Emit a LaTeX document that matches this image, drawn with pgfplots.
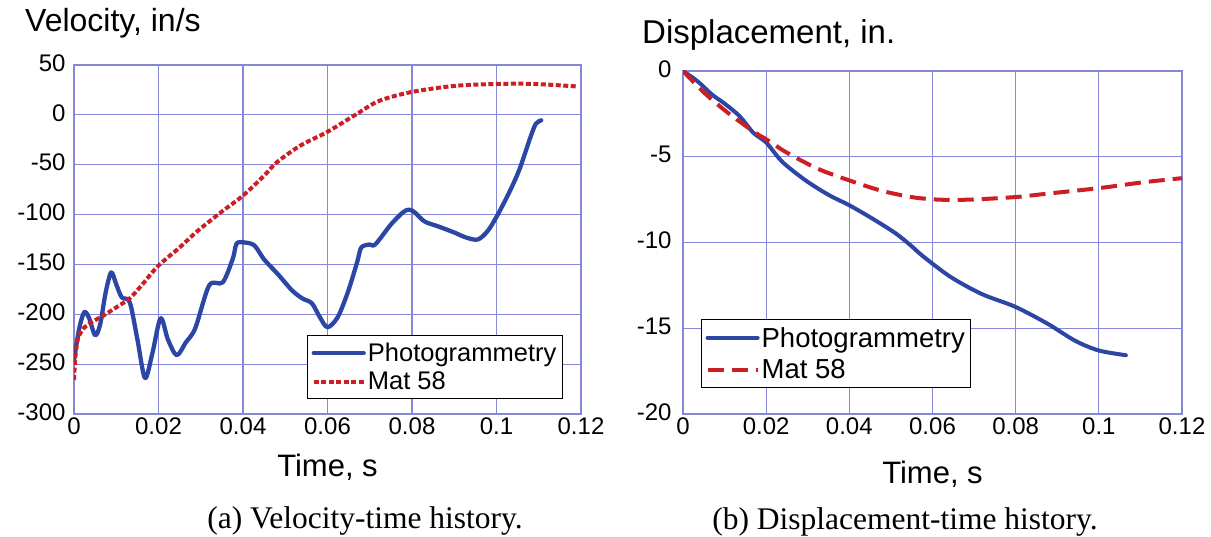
\documentclass[border=0pt]{standalone}
\usepackage{fontspec}
\setmainfont{Liberation Sans}
\newfontfamily\capfont{Liberation Serif}
\usepackage{pgfplots}
\pgfplotsset{compat=1.18}
\definecolor{gridc}{RGB}{135,135,215}
\definecolor{bl}{RGB}{44,70,165}
\definecolor{rd}{RGB}{205,30,35}
\pgfplotsset{
  common/.style={
    scale only axis,
    xmin=0, xmax=0.12,
    xtick={0,0.02,0.04,0.06,0.08,0.1,0.12},
    xticklabels={0,0.02,0.04,0.06,0.08,0.1,0.12},
    grid=major,
    major grid style={draw=gridc, line width=1.1pt},
    axis line style={draw=gridc, line width=1.4pt},
    major tick length=0pt,
    /pgf/number format/assume math mode=true,
    tick label style={font=\fontsize{24}{24}\selectfont},
    legend cell align=left,
    legend image code/.code={\draw[#1] plot coordinates {(0pt,0pt) (25pt,0pt) (50pt,0pt)};},
  },
  blueline/.style={color=bl, line width=4.3pt, smooth, tension=0.5, line cap=round, line join=round},
}
\begin{document}
\begin{tikzpicture}[x=1pt,y=1pt]
\useasboundingbox (0,0) rectangle (1211,537);
% ---------------- (a) velocity ----------------
\begin{axis}[common,
  at={(74pt,123pt)}, anchor=south west,
  width=507pt, height=349pt,
  ymin=-300, ymax=50,
  ytick={-300,-250,-200,-150,-100,-50,0,50},
  yticklabels={-300,-250,-200,-150,-100,-50,0,50},
  yticklabel style={xshift=-5pt, yshift=2pt},
  title={Velocity, in/s},
  every axis title/.style={at={(rel axis cs:-0.0966,1.0946)}, anchor=base west, font=\fontsize{32}{32}\selectfont, inner sep=0pt},
  xlabel={Time, s},
  xlabel style={at={(rel axis cs:0.5,-0.1805)}, anchor=base, font=\fontsize{31}{31}\selectfont, inner sep=0pt},
  legend style={at={(rel axis cs:0.4596,0.2264)}, anchor=north west, draw=black, line width=1.2pt,
    font=\fontsize{25.5}{27}\selectfont, inner xsep=4pt, inner ysep=6pt, row sep=6pt,
    nodes={inner xsep=2pt, inner ysep=1.5pt}},
  after end axis/.code={\node[font=\capfont\fontsize{31.5}{31.5}\selectfont, anchor=base] at (rel axis cs:0.574,-0.3295) {(a) Velocity-time history.};},
]
\addplot[blueline] coordinates {
(0,-246) (0.0012,-215) (0.0024,-198) (0.0035,-203) (0.005,-221) (0.0062,-210)
(0.0075,-178) (0.0088,-158) (0.0100,-170) (0.0113,-183) (0.0132,-188) (0.0150,-225)
(0.0168,-264) (0.0185,-240) (0.0205,-204) (0.0222,-225) (0.0243,-241) (0.0265,-228)
(0.0287,-214) (0.032,-171) (0.0352,-168) (0.0376,-144) (0.0385,-129) (0.0404,-128)
(0.0427,-131) (0.045,-145) (0.0483,-160) (0.0516,-176) (0.054,-184) (0.0563,-189)
(0.0582,-203) (0.060,-213) (0.0624,-203) (0.0648,-178) (0.067,-148) (0.068,-133)
(0.070,-130) (0.0713,-130) (0.075,-110) (0.0778,-98) (0.0793,-95) (0.0807,-98)
(0.083,-107) (0.0863,-112) (0.090,-118) (0.0928,-123) (0.0956,-125) (0.098,-116)
(0.1003,-100) (0.1031,-77) (0.1055,-54) (0.1079,-24) (0.1093,-9) (0.1106,-5.5)
};
\addlegendentry{Photogrammetry}
\addplot[color=rd, line width=4pt, dash pattern=on 5pt off 2.5pt, smooth] coordinates {
(0,-266) (0.0003,-244) (0.0009,-225) (0.0023,-214) (0.0045,-207) (0.0067,-202)
(0.0104,-192) (0.0132,-184) (0.016,-171) (0.0198,-152) (0.025,-133) (0.0291,-117)
(0.035,-97) (0.04,-81) (0.045,-61) (0.0479,-48) (0.0535,-31) (0.06,-17)
(0.0666,0) (0.0722,14) (0.08,23) (0.09,29) (0.1,31) (0.1088,31) (0.119,28.5)
};
\addlegendentry{Mat 58}
\end{axis}
% ---------------- (b) displacement ----------------
\begin{axis}[common,
  at={(683pt,123pt)}, anchor=south west,
  width=499pt, height=343pt,
  ymin=-20, ymax=0,
  ytick={-20,-15,-10,-5,0},
  yticklabels={-20,-15,-10,-5,0},
  yticklabel style={xshift=-8pt, yshift=2pt},
  title={Displacement, in.},
  every axis title/.style={at={(rel axis cs:-0.0822,1.0816)}, anchor=base west, font=\fontsize{33}{33}\selectfont, inner sep=0pt},
  xlabel={Time, s},
  xlabel style={at={(rel axis cs:0.5,-0.2012)}, anchor=base, font=\fontsize{31}{31}\selectfont, inner sep=0pt},
  legend style={at={(rel axis cs:0.0361,0.2770)}, anchor=north west, draw=black, line width=1.2pt,
    font=\fontsize{27.5}{29}\selectfont, inner xsep=4pt, inner ysep=6pt, row sep=8pt,
    nodes={inner xsep=2pt, inner ysep=1.5pt}},
  after end axis/.code={\node[font=\capfont\fontsize{31.5}{31.5}\selectfont, anchor=base] at (rel axis cs:0.4449,-0.3353) {(b) Displacement-time history.};},
]
\addplot[blueline, line width=4pt] coordinates {
(0,0) (0.0035,-0.6) (0.007,-1.38) (0.0100,-1.9) (0.0136,-2.63) (0.0169,-3.6)
(0.02,-4.17) (0.0239,-5.3) (0.0296,-6.4) (0.0352,-7.25) (0.04,-7.83) (0.0455,-8.6)
(0.0511,-9.46) (0.0549,-10.2) (0.0577,-10.8) (0.0643,-12.0) (0.0718,-13.0) (0.08,-13.76)
(0.0877,-14.74) (0.0943,-15.73) (0.1,-16.3) (0.1065,-16.57)
};
\addlegendentry{Photogrammetry}
\addplot[color=rd, line width=4pt, dash pattern=on 16pt off 8pt, smooth] coordinates {
(0,0) (0.0052,-1.29) (0.0108,-2.44) (0.0174,-3.6) (0.02,-3.98) (0.0249,-4.75)
(0.0324,-5.7) (0.04,-6.38) (0.0474,-6.96) (0.0549,-7.35) (0.0614,-7.5) (0.069,-7.5)
(0.08,-7.35) (0.0877,-7.15) (0.1,-6.83) (0.111,-6.48) (0.12,-6.25)
};
\addlegendentry{Mat 58}
\end{axis}
\end{tikzpicture}
\end{document}
